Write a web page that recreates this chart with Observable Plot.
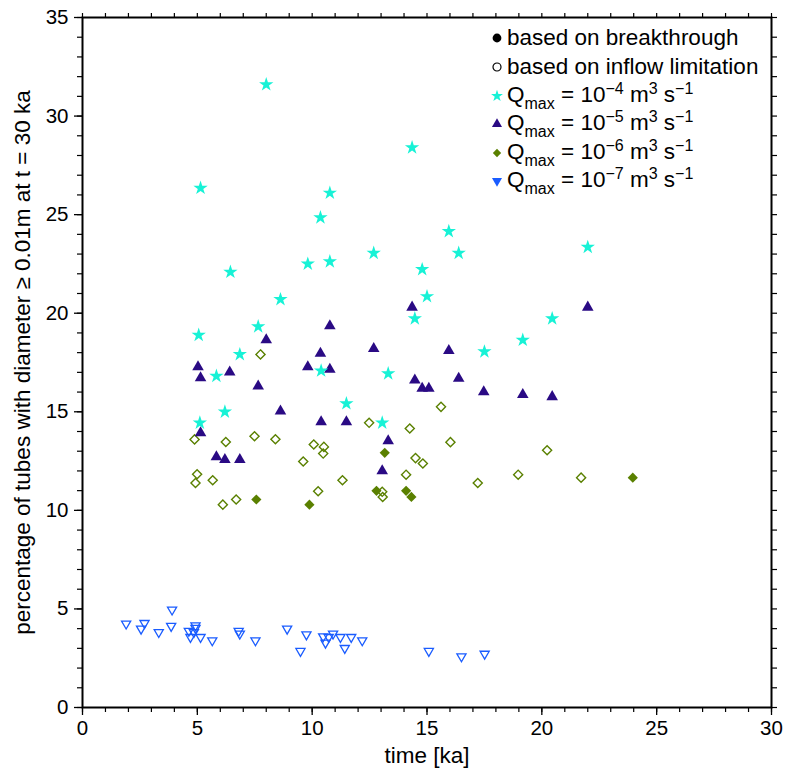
<!DOCTYPE html>
<html>
<head>
<meta charset="utf-8">
<script src="https://cdn.jsdelivr.net/npm/d3@7"></script>
<script src="https://cdn.jsdelivr.net/npm/@observablehq/plot@0.6"></script>
<style>
  html, body { margin: 0; padding: 0; background: #fff; }
  #wrap { position: relative; width: 785px; height: 774px; font-family: "Liberation Sans", Arial, sans-serif; }
  .row { position: absolute; left: 490px; height: 28px; display: flex; align-items: center; font-size: 22.5px; line-height: 28px; color: #000; white-space: nowrap; }
  .row svg { margin-right: 3px; }
  .sub { font-size: 16px; position: relative; top: 7px; }
  .sup { font-size: 16px; position: relative; top: -8px; }
</style>
</head>
<body>
<div id="wrap"></div>
<script>
// ---- data (time [ka], percentage) ----
const q4Time = [8.0, 14.35, 5.14, 10.77, 10.36, 15.95, 12.68, 16.38, 22.0, 10.77, 9.81, 14.79, 6.44, 15.0, 8.62, 14.47, 20.45, 7.65, 5.06, 19.17, 17.5, 6.85, 10.39, 5.83, 13.31, 11.49, 6.2, 5.11, 13.05];
const q4Pct  = [31.6, 28.4, 26.35, 26.1, 24.85, 24.15, 23.05, 23.05, 23.35, 22.62, 22.5, 22.22, 22.09, 20.85, 20.7, 19.73, 19.73, 19.32, 18.89, 18.64, 18.05, 17.91, 17.08, 16.81, 16.94, 15.42, 15.0, 14.44, 14.44];

const q5Time = [14.35, 22.0, 10.77, 8.0, 12.68, 15.95, 10.36, 5.03, 9.81, 10.77, 6.41, 5.14, 16.38, 14.47, 7.65, 14.79, 15.08, 17.47, 19.17, 20.45, 8.62, 10.39, 11.49, 5.14, 13.31, 5.83, 6.2, 6.85, 13.05];
const q5Pct  = [20.3, 20.3, 19.35, 18.64, 18.2, 18.1, 17.96, 17.28, 17.28, 17.15, 17.01, 16.72, 16.69, 16.6, 16.3, 16.18, 16.18, 16.01, 15.87, 15.76, 15.03, 14.49, 14.49, 13.93, 13.52, 12.71, 12.57, 12.57, 12.0];

const q6BreakTime = [13.16, 12.8, 14.09, 14.32, 7.57, 9.88, 23.96];
const q6BreakPct  = [12.92, 10.99, 10.99, 10.68, 10.55, 10.29, 11.66];

const q6InflowTime = [7.75, 15.61, 12.48, 14.25, 4.88, 6.24, 7.49, 8.4, 10.07, 10.51, 10.48, 16.02, 20.23, 9.61, 14.5, 14.82, 4.99, 4.92, 5.67, 11.32, 14.09, 17.21, 18.97, 21.71, 10.26, 13.05, 13.07, 6.11, 6.69];
const q6InflowPct  = [17.91, 15.25, 14.44, 14.15, 13.6, 13.47, 13.76, 13.61, 13.34, 13.22, 12.88, 13.46, 13.05, 12.48, 12.65, 12.38, 11.83, 11.39, 11.53, 11.53, 11.81, 11.39, 11.81, 11.66, 10.97, 10.94, 10.68, 10.29, 10.55];

const q7Time = [1.9, 2.7, 2.55, 3.32, 3.9, 3.86, 4.92, 4.92, 4.63, 4.85, 4.7, 5.14, 5.65, 6.8, 6.85, 7.53, 8.91, 9.75, 9.49, 10.48, 10.58, 10.72, 10.91, 11.23, 11.42, 11.7, 12.18, 15.08, 16.5, 17.51];
const q7Pct  = [4.25, 4.28, 3.99, 3.82, 4.96, 4.13, 4.16, 4.03, 3.88, 3.82, 3.57, 3.57, 3.4, 3.88, 3.74, 3.4, 3.99, 3.7, 2.86, 3.6, 3.28, 3.57, 3.74, 3.57, 3.01, 3.57, 3.4, 2.86, 2.59, 2.72];

const xMajor = [0, 5, 10, 15, 20, 25, 30];
const yMajor = [0, 5, 10, 15, 20, 25, 30, 35];
const xMinor = d3.range(0, 31, 1);
const yMinor = d3.range(0, 36, 1);

const xLabel = "time [ka]";
const yLabel = "percentage of tubes with diameter \u2265 0.01m at t = 30 ka";

const colStar = "#17f2d6", colTri = "#2a0a84", colDia = "#5a8000", colDown = "#1a5cff";

const rows = (ts, ps) => ts.map((t, i) => ({t, p: ps[i]}));

const chart = Plot.plot({
  width: 785, height: 774,
  marginLeft: 82, marginRight: 14, marginTop: 17, marginBottom: 67,
  x: {domain: [0, 30]},
  y: {domain: [0, 35]},
  style: {fontFamily: "'Liberation Sans', Arial, sans-serif", fontSize: "20px", color: "#000", background: "#fff"},
  marks: [
    Plot.axisX({ticks: xMajor, tickSize: 8, tickPadding: 5, label: null, tickFormat: d => d, fontSize: 20.5, strokeWidth: 1.3}),
    Plot.axisX({ticks: xMinor, tickSize: 5, text: null, label: null, strokeWidth: 1.2}),
    Plot.axisX({anchor: "top", ticks: xMinor, tickSize: 5, text: null, label: null, strokeWidth: 1.2}),
    Plot.axisY({ticks: yMajor, tickSize: 8, tickPadding: 6, label: null, tickFormat: d => d, fontSize: 20.5, strokeWidth: 1.3}),
    Plot.axisY({ticks: yMinor, tickSize: 5, text: null, label: null, strokeWidth: 1.2}),
    Plot.axisY({anchor: "right", ticks: yMinor, tickSize: 5, text: null, label: null, strokeWidth: 1.2}),
    Plot.frame({stroke: "#000", strokeWidth: 2}),
    Plot.text([xLabel], {frameAnchor: "bottom", dy: 55, fontSize: 22.5, textAnchor: "middle"}),
    Plot.text([yLabel], {frameAnchor: "left", dx: -60, rotate: -90, fontSize: 22.5, textAnchor: "middle"}),
    Plot.dot(rows(q7Time, q7Pct), {x: "t", y: "p", symbol: "triangle", rotate: 180, r: 3.4, stroke: colDown, strokeWidth: 1.3, fill: "none"}),
    Plot.dot(rows(q6InflowTime, q6InflowPct), {x: "t", y: "p", symbol: "diamond2", r: 4.1, stroke: colDia, strokeWidth: 1.4, fill: "none"}),
    Plot.dot(rows(q6BreakTime, q6BreakPct), {x: "t", y: "p", symbol: "diamond2", r: 4.6, fill: colDia, stroke: "none"}),
    Plot.dot(rows(q5Time, q5Pct), {x: "t", y: "p", symbol: "triangle", r: 4.3, fill: colTri, stroke: "none"}),
    Plot.dot(rows(q4Time, q4Pct), {x: "t", y: "p", symbol: "star", r: 4.5, fill: colStar, stroke: "none"})
  ]
});

const wrap = document.getElementById("wrap");
wrap.appendChild(chart);

// ---- legend ----
const legendItems = [
  {sym: "dotFill", html: "based on breakthrough", cy: 38},
  {sym: "dotOpen", html: "based on inflow limitation", cy: 67},
  {sym: "star", color: colStar, exp: "\u22124", cy: 96},
  {sym: "tri", color: colTri, exp: "\u22125", cy: 124},
  {sym: "dia", color: colDia, exp: "\u22126", cy: 153},
  {sym: "down", color: colDown, exp: "\u22127", cy: 181}
];
function symSvg(it) {
  let path = "";
  if (it.sym === "dotFill") path = '<circle cx="7" cy="7" r="4.4" fill="#000"/>';
  else if (it.sym === "dotOpen") path = '<circle cx="7" cy="7" r="4" fill="none" stroke="#000" stroke-width="1.2"/>';
  else {
    const type = {star: d3.symbolStar, tri: d3.symbolTriangle, dia: d3.symbolDiamond2, down: d3.symbolTriangle}[it.sym];
    const d = d3.symbol(type, 44)();
    const rot = it.sym === "down" ? ' transform="translate(7,7) rotate(180)"' : ' transform="translate(7,7)"';
    path = `<path d="${d}" fill="${it.color}"${rot}/>`;
  }
  return `<svg width="14" height="14" viewBox="0 0 14 14">${path}</svg>`;
}
for (const it of legendItems) {
  const div = document.createElement("div");
  div.className = "row";
  div.style.top = (it.cy - 14) + "px";
  const text = it.exp
    ? `Q<span class="sub">max</span> = 10<span class="sup">${it.exp}</span> m<span class="sup">3</span> s<span class="sup">\u22121</span>`
    : it.html;
  div.innerHTML = symSvg(it) + `<span>${text}</span>`;
  wrap.appendChild(div);
}
</script>
</body>
</html>
